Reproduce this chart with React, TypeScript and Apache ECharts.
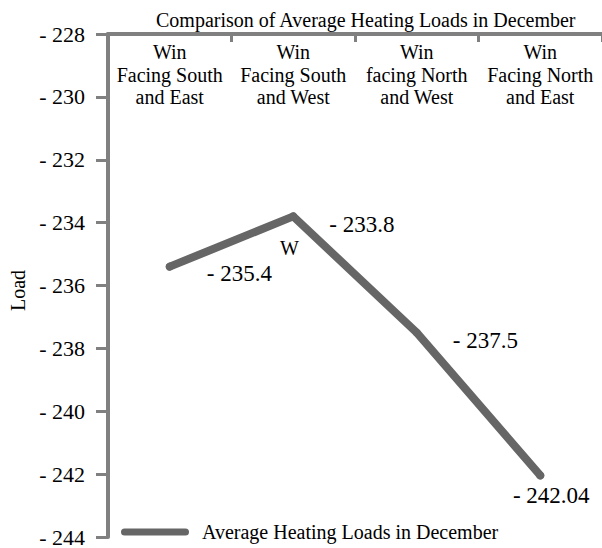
import React, { useEffect, useRef } from "react";
import * as echarts from "echarts";

const categories = [
  "Win\nFacing South\nand East",
  "Win\nFacing South\nand West",
  "Win\nfacing North\nand West",
  "Win\nFacing North\nand East",
];
const seriesName = "Average Heating Loads in December";
const values = [-235.4, -233.8, -237.5, -242.04];
const yMin = -244;
const yMax = -228;
const yStep = 2;
const titleText = "Comparison of Average Heating Loads in December";

const FONT = "'Liberation Serif', 'Times New Roman', serif";
const fmt = (v: number) => (v < 0 ? "- " + String(Math.abs(v)) : String(v));

export default function App() {
  const ref = useRef<HTMLDivElement>(null);
  useEffect(() => {
    if (!ref.current) return;
    const chart = echarts.init(ref.current, null, { renderer: "svg" });
    const labelCfg = [
      { position: "right", distance: 0, offset: [33, 7] },
      { position: "right", distance: 0, offset: [32, 8] },
      { position: "right", distance: 0, offset: [32, 8] },
      { position: "bottom", distance: 0, offset: [11, 5] },
    ];
    chart.setOption({
      animation: false,
      backgroundColor: "#ffffff",
      textStyle: { fontFamily: FONT },
      title: {
        text: titleText,
        left: 151,
        top: 5,
        textStyle: { fontFamily: FONT, fontSize: 20, fontWeight: "normal", color: "#000" },
      },
      legend: {
        left: 116,
        top: 517,
        itemWidth: 68,
        itemHeight: 14,
        itemGap: 10,
        textStyle: { fontFamily: FONT, fontSize: 20, color: "#000", padding: [0, 0, 0, 8] },
        data: [{ name: seriesName, icon: "path://M4,4 L64,4 A3.5,3.5 0 0 1 64,11 L4,11 A3.5,3.5 0 0 1 4,4 Z" }],
        itemStyle: { color: "#666666" },
      },
      grid: [{ left: 108, right: -2, top: 34, bottom: 6 }],
      xAxis: [
        {
          type: "category",
          position: "top",
          data: categories,
          boundaryGap: true,
          axisLine: { show: true, lineStyle: { color: "#808080", width: 4 } },
          axisTick: { show: true, inside: true, length: 8, lineStyle: { color: "#808080", width: 3 } },
          axisLabel: {
            inside: true,
            margin: 7,
            interval: 0,
            fontFamily: FONT,
            fontSize: 20,
            lineHeight: 22.5,
            color: "#000",
            align: "center",
          },
          splitLine: { show: false },
        },
      ],
      yAxis: [
        {
          type: "value",
          min: yMin,
          max: yMax,
          interval: yStep,
          name: "Load",
          nameLocation: "middle",
          nameGap: 80,
          nameRotate: 90,
          nameTextStyle: { fontFamily: FONT, fontSize: 20, color: "#000", padding: [0, 0, 0, -10] },
          axisLine: { show: true, lineStyle: { color: "#808080", width: 4 } },
          axisTick: { show: true, inside: false, length: 12, lineStyle: { color: "#808080", width: 3 } },
          axisLabel: {
            margin: 23,
            fontFamily: FONT,
            fontSize: 22,
            color: "#000",
            formatter: (v: number) => fmt(v),
          },
          splitLine: { show: false },
        },
      ],
      series: [
        {
          name: seriesName,
          type: "line",
          data: values.map((v, i) => ({
            value: v,
            label: labelCfg[i],
          })),
          symbol: "circle",
          symbolSize: 8,
          showSymbol: true,
          itemStyle: { color: "#666666" },
          lineStyle: { color: "#666666", width: 8, cap: "round", join: "round" },
          label: {
            show: true,
            fontFamily: FONT,
            fontSize: 23,
            color: "#000",
            formatter: (p: any) => fmt(p.value),
          },
        },
      ],
      graphic: [
        {
          type: "text",
          left: 280,
          top: 238,
          style: { text: "W", fontFamily: FONT, fontSize: 20, fill: "#000" },
        },
      ],
    });
    return () => chart.dispose();
  }, []);
  return (
    <div
      ref={ref}
      style={{ position: "fixed", left: 0, top: 0, width: 602, height: 548, background: "#fff" }}
    />
  );
}
